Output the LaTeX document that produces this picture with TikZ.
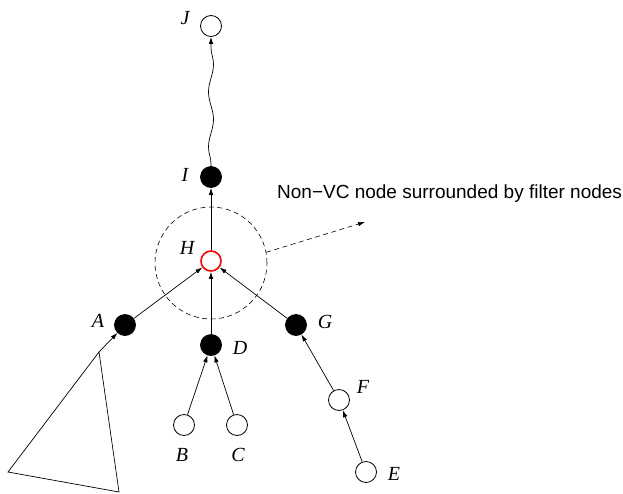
\documentclass[tikz,border=0pt]{standalone}
\usepackage{fontspec}
\setmainfont{Liberation Serif}
\setsansfont{Liberation Sans}
\usetikzlibrary{arrows.meta,decorations.pathmorphing}
\begin{document}
\begin{tikzpicture}[x=1pt,y=-1pt,
  vtx/.style={circle,draw,line width=0.8pt,minimum size=21pt,inner sep=0pt},
  openv/.style={vtx,fill=white},
  filledv/.style={vtx,fill=black},
  nonvc/.style={vtx,draw=red,line width=1.6pt,minimum size=20pt},
  lbl/.style={font=\fontsize{20}{20}\selectfont\itshape,inner sep=0pt},
  edge/.style={line width=0.7pt,-{Latex[length=7pt,width=4.5pt]}},
  dashline/.style={dash pattern=on 5pt off 3.5pt,line width=0.6pt},
  zone/.style={circle,draw,dashline,minimum size=112pt,inner sep=0pt}
]
\useasboundingbox (0,0) rectangle (623,493);

% vertices
\node[openv]   (J) at (211,26)  {};
\node[filledv] (I) at (211,177) {};
\node[nonvc]   (H) at (211,261) {};
\node[filledv] (A) at (125,325) {};
\node[filledv] (D) at (211,345) {};
\node[filledv] (G) at (296,325) {};
\node[openv]   (B) at (184,425) {};
\node[openv]   (C) at (237,425) {};
\node[openv]   (F) at (339,400) {};
\node[openv]   (E) at (366,472) {};

% dashed zone around the non-VC node
\node[zone] (Z) at (211,263) {};

% vertex labels
\node[lbl] (lJ) at (185,18)  {J};
\node[lbl] (lI) at (185,175) {I};
\node[lbl] (lH) at (187,248) {H};
\node[lbl] (lA) at (98,321)  {A};
\node[lbl] (lD) at (240,348) {D};
\node[lbl] (lG) at (325,322) {G};
\node[lbl] (lB) at (182,455) {B};
\node[lbl] (lC) at (238,455) {C};
\node[lbl] (lF) at (363,387) {F};
\node[lbl] (lE) at (394,474) {E};

% subtree hanging below A
\coordinate (T) at (99,352);
\coordinate (TL) at (8,472);
\coordinate (TR) at (119,492);
\draw[line width=0.7pt] (T) -- (TL) -- (TR) -- (T);

% edges
\draw[edge,decorate,decoration={snake,amplitude=2.5pt,segment length=55pt,pre length=2pt,post length=9pt}] (I) -- (J);
\draw[edge] (H) -- (I);
\draw[edge] (A) -- (H);
\draw[edge] (D) -- (H);
\draw[edge] (G) -- (H);
\draw[edge] (B) -- (D);
\draw[edge] (C) -- (D);
\draw[edge] (F) -- (G);
\draw[edge] (E) -- (F);
\draw[edge] (T) -- (A);

% annotation
\coordinate (P) at (365,222);
\draw[dashline,-{Latex[length=7pt,width=4.5pt]}] (Z.11) -- (P);
\node[font=\sffamily\fontsize{19}{19}\selectfont,anchor=base west,inner sep=0pt] (note) at (277,198) {Non\textminus VC node surrounded by filter nodes};
\end{tikzpicture}
\end{document}
